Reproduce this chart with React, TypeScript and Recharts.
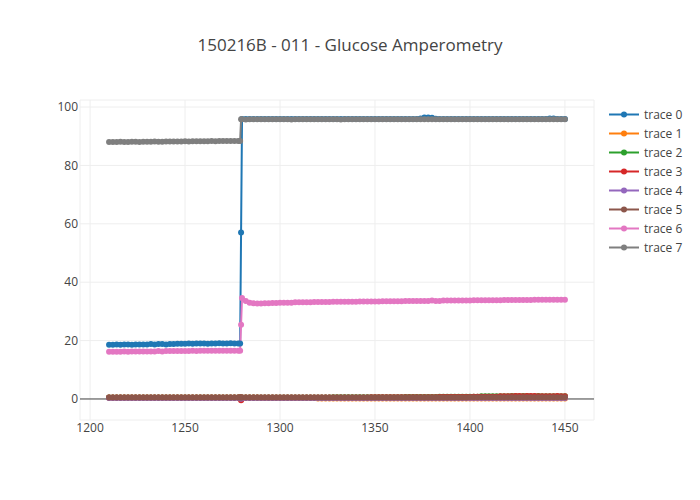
import { LineChart, Line, XAxis, YAxis, CartesianGrid, ReferenceLine, Legend } from 'recharts'

const TITLE = '150216B - 011 - Glucose Amperometry'

// sample times (s)
const times = [
  1210, 1212, 1214, 1216, 1218, 1220, 1222, 1224, 1226, 1228,
  1230, 1232, 1234, 1236, 1238, 1240, 1242, 1244, 1246, 1248,
  1250, 1252, 1254, 1256, 1258, 1260, 1262, 1264, 1266, 1268,
  1270, 1272, 1274, 1276, 1278, 1279,
  1279.5,
  1280, 1282, 1284, 1286, 1288, 1290, 1292, 1294, 1296, 1298,
  1300, 1302, 1304, 1306, 1308, 1310, 1312, 1314, 1316, 1318,
  1320, 1322, 1324, 1326, 1328, 1330, 1332, 1334, 1336, 1338,
  1340, 1342, 1344, 1346, 1348, 1350, 1352, 1354, 1356, 1358,
  1360, 1362, 1364, 1366, 1368, 1370, 1372, 1374, 1376, 1378,
  1380, 1382, 1384, 1386, 1388, 1390, 1392, 1394, 1396, 1398,
  1400, 1402, 1404, 1406, 1408, 1410, 1412, 1414, 1416, 1418,
  1420, 1422, 1424, 1426, 1428, 1430, 1432, 1434, 1436, 1438,
  1440, 1442, 1444, 1446, 1448, 1450,
]

const trace0 = [
  18.6, 18.6, 18.7, 18.6, 18.7, 18.7, 18.6, 18.7, 18.7, 18.7,
  18.7, 18.8, 18.7, 18.8, 18.8, 18.7, 18.8, 18.8, 18.9, 18.9,
  18.9, 19.0, 18.9, 19.0, 19.0, 19.0, 18.9, 19.0, 19.0, 19.1,
  19.0, 19.0, 19.1, 19.0, 19.0, 19.0,
  57.0,
  95.9, 95.9, 95.9, 95.9, 95.9, 95.9, 95.9, 95.9, 95.9, 95.9,
  95.9, 95.9, 95.9, 95.9, 95.9, 95.9, 95.9, 95.9, 95.9, 95.9,
  95.9, 95.9, 95.9, 95.9, 95.9, 95.9, 95.9, 95.9, 95.9, 95.9,
  95.9, 95.9, 95.9, 95.9, 95.9, 95.9, 95.9, 95.9, 95.9, 95.9,
  95.9, 95.9, 95.9, 95.9, 95.9, 95.9, 95.9, 96.1, 96.4, 96.4,
  96.3, 96.0, 95.9, 95.9, 95.9, 95.9, 95.9, 95.9, 95.9, 95.9,
  95.9, 95.9, 95.9, 95.9, 95.9, 95.9, 95.9, 95.9, 95.9, 95.9,
  95.9, 95.9, 95.9, 95.9, 95.9, 95.9, 95.9, 95.9, 95.9, 95.9,
  95.9, 96.1, 96.1, 95.9, 95.9, 95.9,
]

const trace1 = [
  0.4, 0.4, 0.4, 0.4, 0.4, 0.4, 0.4, 0.4, 0.4, 0.4,
  0.4, 0.4, 0.4, 0.4, 0.4, 0.4, 0.4, 0.4, 0.4, 0.4,
  0.4, 0.4, 0.4, 0.4, 0.4, 0.4, 0.4, 0.4, 0.4, 0.4,
  0.4, 0.4, 0.4, 0.4, 0.4, 0.4,
  -0.2,
  0.4, 0.4, 0.4, 0.4, 0.4, 0.3, 0.3, 0.3, 0.3, 0.3,
  0.3, 0.3, 0.3, 0.3, 0.3, 0.3, 0.3, 0.3, 0.3, 0.3,
  0.2, 0.2, 0.2, 0.2, 0.2, 0.2, 0.2, 0.2, 0.2, 0.2,
  0.2, 0.2, 0.2, 0.2, 0.2, 0.2, 0.2, 0.2, 0.2, 0.2,
  0.2, 0.2, 0.2, 0.2, 0.2, 0.2, 0.2, 0.2, 0.2, 0.2,
  0.2, 0.2, 0.2, 0.2, 0.2, 0.2, 0.2, 0.2, 0.2, 0.2,
  0.2, 0.2, 0.2, 0.2, 0.2, 0.2, 0.2, 0.2, 0.2, 0.2,
  0.2, 0.2, 0.2, 0.2, 0.2, 0.2, 0.2, 0.2, 0.2, 0.2,
  0.2, 0.2, 0.2, 0.2, 0.2, 0.2,
]

const trace2 = [
  0.5, 0.5, 0.5, 0.5, 0.5, 0.5, 0.5, 0.5, 0.5, 0.5,
  0.5, 0.5, 0.5, 0.5, 0.5, 0.5, 0.5, 0.5, 0.5, 0.5,
  0.5, 0.5, 0.5, 0.5, 0.5, 0.5, 0.5, 0.5, 0.5, 0.5,
  0.5, 0.5, 0.5, 0.5, 0.5, 0.5,
  0.2,
  0.5, 0.5, 0.5, 0.5, 0.5, 0.5, 0.5, 0.5, 0.5, 0.5,
  0.5, 0.5, 0.5, 0.5, 0.5, 0.5, 0.5, 0.5, 0.5, 0.5,
  0.5, 0.5, 0.5, 0.5, 0.6, 0.6, 0.6, 0.6, 0.6, 0.6,
  0.6, 0.6, 0.6, 0.6, 0.6, 0.6, 0.6, 0.6, 0.6, 0.6,
  0.6, 0.6, 0.6, 0.7, 0.7, 0.7, 0.7, 0.7, 0.7, 0.7,
  0.7, 0.7, 0.8, 0.8, 0.8, 0.8, 0.8, 0.8, 0.8, 0.8,
  0.8, 0.8, 0.8, 0.9, 0.9, 0.9, 0.9, 0.9, 0.9, 0.9,
  0.9, 1.0, 1.0, 0.9, 1.0, 1.0, 0.9, 0.9, 1.0, 0.9,
  0.9, 0.9, 0.9, 0.9, 0.9, 0.9,
]

const trace3 = [
  0.5, 0.5, 0.5, 0.5, 0.5, 0.5, 0.5, 0.5, 0.5, 0.5,
  0.5, 0.5, 0.5, 0.5, 0.5, 0.5, 0.5, 0.5, 0.5, 0.5,
  0.5, 0.5, 0.5, 0.5, 0.5, 0.5, 0.5, 0.5, 0.5, 0.5,
  0.5, 0.5, 0.5, 0.5, 0.5, 0.5,
  -0.4,
  0.5, 0.5, 0.5, 0.5, 0.5, 0.5, 0.5, 0.5, 0.5, 0.5,
  0.5, 0.5, 0.5, 0.5, 0.5, 0.5, 0.5, 0.5, 0.5, 0.5,
  0.5, 0.5, 0.5, 0.5, 0.5, 0.5, 0.5, 0.5, 0.5, 0.5,
  0.5, 0.5, 0.5, 0.5, 0.6, 0.6, 0.6, 0.6, 0.6, 0.6,
  0.6, 0.6, 0.6, 0.6, 0.6, 0.6, 0.6, 0.6, 0.6, 0.6,
  0.6, 0.6, 0.7, 0.7, 0.7, 0.7, 0.7, 0.7, 0.7, 0.7,
  0.7, 0.8, 0.8, 0.8, 0.8, 0.8, 0.8, 0.8, 0.9, 0.9,
  0.9, 0.9, 1.0, 1.0, 0.9, 1.0, 1.0, 1.0, 0.9, 0.9,
  0.9, 0.9, 0.9, 1.0, 0.9, 0.9,
]

const trace4 = [
  0.3, 0.3, 0.3, 0.3, 0.3, 0.3, 0.3, 0.3, 0.3, 0.3,
  0.3, 0.3, 0.3, 0.3, 0.3, 0.3, 0.3, 0.3, 0.3, 0.3,
  0.3, 0.3, 0.3, 0.3, 0.3, 0.3, 0.3, 0.3, 0.3, 0.3,
  0.3, 0.3, 0.3, 0.3, 0.3, 0.3,
  0.1,
  0.3, 0.3, 0.3, 0.3, 0.3, 0.3, 0.3, 0.3, 0.3, 0.3,
  0.3, 0.3, 0.3, 0.3, 0.3, 0.3, 0.3, 0.3, 0.3, 0.3,
  0.3, 0.3, 0.3, 0.3, 0.3, 0.3, 0.3, 0.3, 0.3, 0.3,
  0.3, 0.3, 0.3, 0.3, 0.3, 0.3, 0.3, 0.3, 0.3, 0.3,
  0.3, 0.3, 0.3, 0.3, 0.3, 0.3, 0.3, 0.3, 0.3, 0.3,
  0.3, 0.3, 0.3, 0.3, 0.3, 0.3, 0.3, 0.3, 0.3, 0.3,
  0.3, 0.3, 0.3, 0.3, 0.3, 0.3, 0.3, 0.3, 0.3, 0.3,
  0.3, 0.3, 0.3, 0.3, 0.3, 0.3, 0.3, 0.3, 0.3, 0.3,
  0.3, 0.3, 0.3, 0.3, 0.3, 0.3,
]

const trace5 = [
  0.5, 0.5, 0.5, 0.5, 0.5, 0.5, 0.5, 0.5, 0.5, 0.5,
  0.5, 0.5, 0.5, 0.5, 0.5, 0.5, 0.5, 0.5, 0.5, 0.5,
  0.5, 0.5, 0.5, 0.5, 0.5, 0.5, 0.5, 0.5, 0.5, 0.5,
  0.5, 0.5, 0.5, 0.5, 0.5, 0.5,
  0.5,
  0.5, 0.5, 0.5, 0.5, 0.5, 0.5, 0.5, 0.5, 0.5, 0.5,
  0.5, 0.5, 0.5, 0.5, 0.5, 0.5, 0.5, 0.5, 0.5, 0.5,
  0.5, 0.5, 0.5, 0.5, 0.5, 0.5, 0.5, 0.5, 0.5, 0.5,
  0.5, 0.5, 0.5, 0.5, 0.5, 0.5, 0.5, 0.5, 0.5, 0.5,
  0.5, 0.5, 0.5, 0.5, 0.5, 0.5, 0.5, 0.5, 0.5, 0.5,
  0.5, 0.5, 0.5, 0.5, 0.5, 0.5, 0.5, 0.5, 0.5, 0.5,
  0.6, 0.6, 0.6, 0.6, 0.6, 0.6, 0.6, 0.6, 0.6, 0.6,
  0.6, 0.6, 0.6, 0.6, 0.6, 0.6, 0.6, 0.6, 0.6, 0.6,
  0.6, 0.6, 0.6, 0.6, 0.6, 0.6,
]

const trace6 = [
  16.2, 16.2, 16.2, 16.2, 16.3, 16.2, 16.3, 16.3, 16.3, 16.3,
  16.3, 16.3, 16.3, 16.4, 16.3, 16.4, 16.4, 16.4, 16.4, 16.4,
  16.4, 16.4, 16.5, 16.4, 16.5, 16.5, 16.5, 16.5, 16.5, 16.5,
  16.5, 16.5, 16.5, 16.5, 16.5, 16.5,
  25.4,
  34.6, 33.6, 33.0, 32.8, 32.7, 32.7, 32.8, 32.8, 32.9, 32.9,
  33.0, 33.0, 33.0, 33.0, 33.1, 33.1, 33.1, 33.1, 33.1, 33.2,
  33.2, 33.2, 33.2, 33.2, 33.3, 33.3, 33.3, 33.3, 33.3, 33.3,
  33.3, 33.4, 33.4, 33.4, 33.4, 33.4, 33.4, 33.5, 33.5, 33.5,
  33.5, 33.5, 33.5, 33.6, 33.6, 33.6, 33.6, 33.6, 33.6, 33.6,
  33.7, 33.6, 33.6, 33.7, 33.7, 33.7, 33.7, 33.7, 33.7, 33.7,
  33.7, 33.8, 33.8, 33.8, 33.8, 33.8, 33.8, 33.8, 33.8, 33.9,
  33.9, 33.9, 33.9, 33.9, 33.9, 33.9, 33.9, 34.0, 34.0, 34.0,
  34.0, 34.0, 34.0, 34.0, 34.0, 34.0,
]

const trace7 = [
  88.0, 88.0, 88.0, 88.1, 88.0, 88.0, 88.1, 88.1, 88.0, 88.1,
  88.1, 88.1, 88.2, 88.1, 88.1, 88.2, 88.2, 88.2, 88.2, 88.2,
  88.3, 88.2, 88.3, 88.3, 88.3, 88.3, 88.3, 88.4, 88.3, 88.4,
  88.4, 88.4, 88.4, 88.4, 88.4, 88.4,
  95.8,
  95.8, 95.7, 95.8, 95.8, 95.8, 95.8, 95.8, 95.8, 95.8, 95.8,
  95.8, 95.8, 95.8, 95.7, 95.8, 95.8, 95.8, 95.8, 95.8, 95.8,
  95.8, 95.8, 95.8, 95.8, 95.8, 95.8, 95.7, 95.8, 95.8, 95.8,
  95.8, 95.8, 95.8, 95.8, 95.8, 95.8, 95.8, 95.8, 95.8, 95.8,
  95.8, 95.8, 95.8, 95.8, 95.8, 95.8, 95.8, 95.8, 95.8, 95.8,
  95.8, 95.8, 95.8, 95.8, 95.8, 95.8, 95.8, 95.8, 95.8, 95.8,
  95.8, 95.8, 95.8, 95.8, 95.8, 95.8, 95.8, 95.8, 95.8, 95.8,
  95.8, 95.8, 95.8, 95.8, 95.8, 95.8, 95.8, 95.8, 95.8, 95.8,
  95.8, 95.8, 95.8, 95.8, 95.8, 95.8,
]

const seriesNames = ['trace 0', 'trace 1', 'trace 2', 'trace 3', 'trace 4', 'trace 5', 'trace 6', 'trace 7']
const seriesValues = [trace0, trace1, trace2, trace3, trace4, trace5, trace6, trace7]
const COLORS = ['#1f77b4', '#ff7f0e', '#2ca02c', '#d62728', '#9467bd', '#8c564b', '#e377c2', '#7f7f7f']

const xTicks = [1200, 1250, 1300, 1350, 1400, 1450]
const yTicks = [0, 20, 40, 60, 80, 100]

const data = times.map((t, i) => {
  const row: Record<string, number> = { t }
  seriesValues.forEach((vals, k) => {
    row[`s${k}`] = vals[i]
  })
  return row
})

const FONT = '"Open Sans", verdana, arial, sans-serif'

function renderLegend() {
  return (
    <div style={{ fontFamily: FONT, fontSize: 12, color: '#444' }}>
      {seriesNames.map((name, i) => (
        <div key={name} style={{ display: 'flex', alignItems: 'center', height: 19 }}>
          <svg width={36} height={19} style={{ display: 'block' }}>
            <line x1={1} x2={31} y1={9.5} y2={9.5} stroke={COLORS[i]} strokeWidth={2} />
            <circle cx={16} cy={9.5} r={3} fill={COLORS[i]} />
          </svg>
          <span style={{ whiteSpace: 'nowrap' }}>{name}</span>
        </div>
      ))}
    </div>
  )
}

export default function App() {
  return (
    <div style={{ position: 'absolute', left: 0, top: 0, width: 700, height: 500, background: '#fff', fontFamily: FONT }}>
      <div
        style={{
          position: 'absolute',
          top: 33,
          left: 0,
          width: 700,
          height: 24,
          lineHeight: '24px',
          textAlign: 'center',
          fontSize: 17,
          color: '#444',
        }}
      >
        {TITLE}
      </div>
      <LineChart width={700} height={500} data={data} margin={{ top: 100, right: 106, bottom: 50, left: 50 }}>
        <CartesianGrid stroke="#eee" strokeWidth={1} />
        <XAxis
          dataKey="t"
          type="number"
          domain={[1194.7, 1465.3]}
          ticks={xTicks}
          allowDataOverflow
          axisLine={false}
          tickLine={false}
          tickSize={0}
          tickMargin={3}
          height={30}
          tick={{ fill: '#444', fontSize: 12 }}
        />
        <YAxis
          type="number"
          domain={[-7.2, 102.4]}
          ticks={yTicks}
          allowDataOverflow
          axisLine={false}
          tickLine={false}
          tickSize={0}
          tickMargin={2}
          width={30}
          tick={{ fill: '#444', fontSize: 12 }}
        />
        <ReferenceLine y={0} stroke="#444" strokeWidth={1} />
        {seriesNames.map((name, k) => (
          <Line
            key={name}
            name={name}
            dataKey={`s${k}`}
            type="linear"
            stroke={COLORS[k]}
            strokeWidth={2}
            dot={{ r: 3, fill: COLORS[k], stroke: 'none' }}
            activeDot={false}
            isAnimationActive={false}
          />
        ))}
        <Legend
          layout="horizontal"
          verticalAlign="middle"
          align="center"
          wrapperStyle={{ top: 104.5, left: 608, width: 90, height: 160 }}
          content={renderLegend}
        />
      </LineChart>
    </div>
  )
}
